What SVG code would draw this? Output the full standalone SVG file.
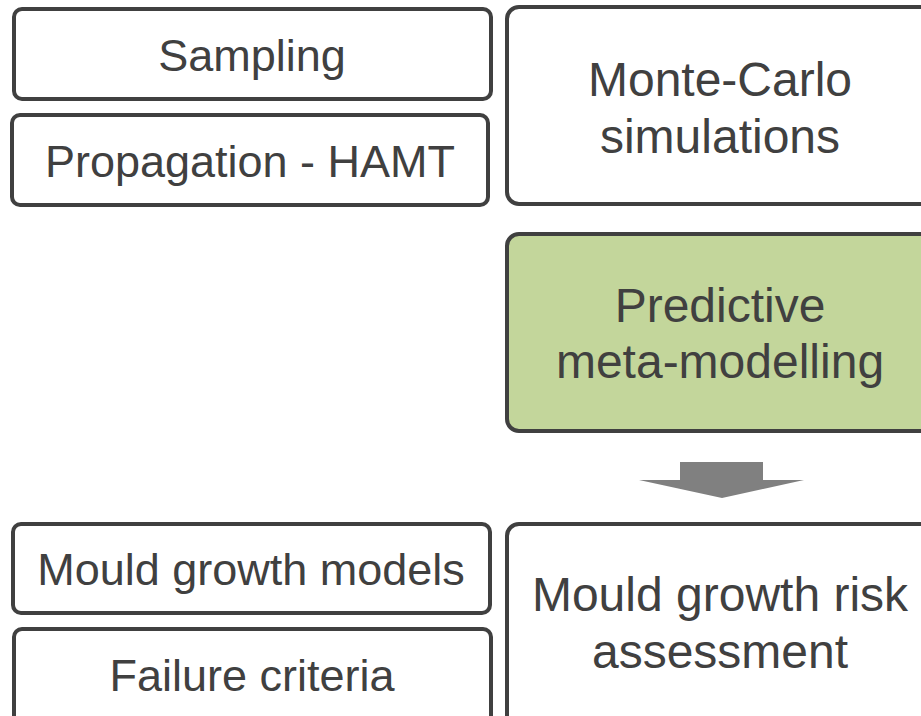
<svg xmlns="http://www.w3.org/2000/svg" width="921" height="716" viewBox="0 0 921 716">
<style>
.box{fill:#ffffff;stroke:#404040;stroke-width:4}
.green{fill:#c3d69b}
.t{font-family:"Liberation Sans",Arial,sans-serif;font-size:45px;fill:#404040;text-anchor:middle}
.b{font-size:48px}
</style>
<rect width="921" height="716" fill="#ffffff"/>
<g id="sampling"><rect class="box" x="14" y="9" width="477" height="90" rx="8"/><text class="t" x="252" y="71">Sampling</text></g>
<g id="propagation"><rect class="box" x="12" y="115" width="476" height="90" rx="8"/><text class="t" x="250" y="177">Propagation - HAMT</text></g>
<g id="montecarlo"><rect class="box" x="507" y="7" width="426" height="197" rx="12"/><text class="t b" x="720" y="96">Monte-Carlo</text><text class="t b" x="720" y="153">simulations</text></g>
<g id="predictive"><rect class="box green" x="507" y="234" width="426" height="197" rx="12"/><text class="t b" x="720" y="322">Predictive</text><text class="t b" x="720" y="378">meta-modelling</text></g>
<g id="mouldmodels"><rect class="box" x="13" y="524" width="477" height="89" rx="8"/><text class="t" x="251" y="585">Mould growth models</text></g>
<g id="failure"><rect class="box" x="14" y="629" width="477" height="120" rx="8"/><text class="t" x="252" y="691">Failure criteria</text></g>
<g id="risk"><rect class="box" x="507" y="524" width="426" height="220" rx="12"/><text class="t b" x="720" y="611">Mould growth risk</text><text class="t b" x="720" y="668">assessment</text></g>
<g id="connectors"><polygon points="680,462 763,462 763,480 804,480 722,498 639,480 680,480" fill="#808080"/></g>
</svg>
